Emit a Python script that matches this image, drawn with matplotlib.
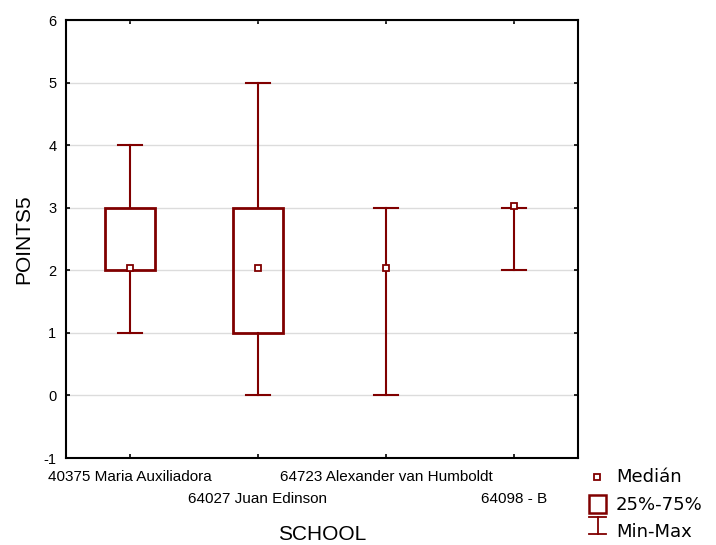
import matplotlib.pyplot as plt
from matplotlib.patches import Rectangle
from matplotlib.lines import Line2D

plt.rcParams['font.family'] = ['Liberation Sans', 'DejaVu Sans']
plt.rcParams['axes.unicode_minus'] = False

# data
schools = ['40375 Maria Auxiliadora', '64027 Juan Edinson',
           '64723 Alexander van Humboldt', '64098 - B']
medians = [2, 2, 2, 3]
q1 = [2, 1, 2, 3]
q3 = [3, 3, 2, 3]
mins = [1, 0, 0, 2]
maxs = [4, 5, 3, 3]

RED = '#800000'

fig = plt.figure(figsize=(7.16, 5.45), dpi=100)
ax = fig.add_axes([66/716, 1-458/545, 512/716, 438/545])

box_w = 0.39
cap_w = 0.19
for i in range(len(schools)):
    if q3[i] > q1[i]:
        ax.add_patch(Rectangle((i - box_w/2, q1[i]), box_w, q3[i]-q1[i],
                               fill=False, edgecolor=RED, lw=2, zorder=3))
        ax.plot([i, i], [mins[i], q1[i]], color=RED, lw=1.5, zorder=3)
        ax.plot([i, i], [q3[i], maxs[i]], color=RED, lw=1.5, zorder=3)
    else:
        ax.plot([i, i], [mins[i], maxs[i]], color=RED, lw=1.5, zorder=3)
    ax.plot([i - cap_w/2, i + cap_w/2], [mins[i], mins[i]], color=RED, lw=1.5, zorder=3)
    ax.plot([i - cap_w/2, i + cap_w/2], [maxs[i], maxs[i]], color=RED, lw=1.5, zorder=3)
    ax.plot(i, medians[i] + 0.03, marker='s', ms=4.5, mfc='white', mec=RED,
            mew=1.3, zorder=4)

ax.set_xlim(-0.5, 3.5)
ax.set_ylim(-1, 6)
ax.set_yticks(range(-1, 7))
ax.set_xticks(range(len(schools)))
ax.set_xticklabels([])
ax.grid(axis='y', color='#dcdcdc', lw=1, zorder=0)
ax.tick_params(direction='in', top=True, right=True, length=3, width=1.2,
               labelsize=10.5, colors='black')
ax.tick_params(axis='y', pad=7)
for s in ax.spines.values():
    s.set_linewidth(1.5)

# staggered category labels (two rows, like the original)
tr = ax.get_xaxis_transform()
for k, s in enumerate(schools):
    yrow = -19/438 if k % 2 == 0 else -41/438
    ax.text(k, yrow, s, transform=tr, ha='center', va='center', fontsize=11)

# axis titles and legend drawn in pixel space
lg = fig.add_axes([0, 0, 1, 1], facecolor='none')
lg.set_xlim(0, 716)
lg.set_ylim(545, 0)
lg.axis('off')
lg.text(24, 239, 'POINTS5', rotation=90, ha='center', va='center', fontsize=15)
lg.text(322, 534, 'SCHOOL', ha='center', va='center', fontsize=15)

lg.plot(597, 477, marker='s', ms=4.5, mfc='white', mec=RED, mew=1.3)
lg.add_patch(Rectangle((589, 495), 17, 18, fill=False, edgecolor=RED, lw=1.8))
lg.add_line(Line2D([597.5, 597.5], [517, 534], color=RED, lw=1.3))
lg.add_line(Line2D([589, 606], [517, 517], color=RED, lw=1.3))
lg.add_line(Line2D([589, 606], [534, 534], color=RED, lw=1.3))
for y, t in [(477, 'Medián'), (505, '25%-75%'), (532, 'Min-Max')]:
    lg.text(616, y, t, fontsize=13, family='DejaVu Sans', va='center', ha='left')

fig.savefig('out.png', dpi=100)
